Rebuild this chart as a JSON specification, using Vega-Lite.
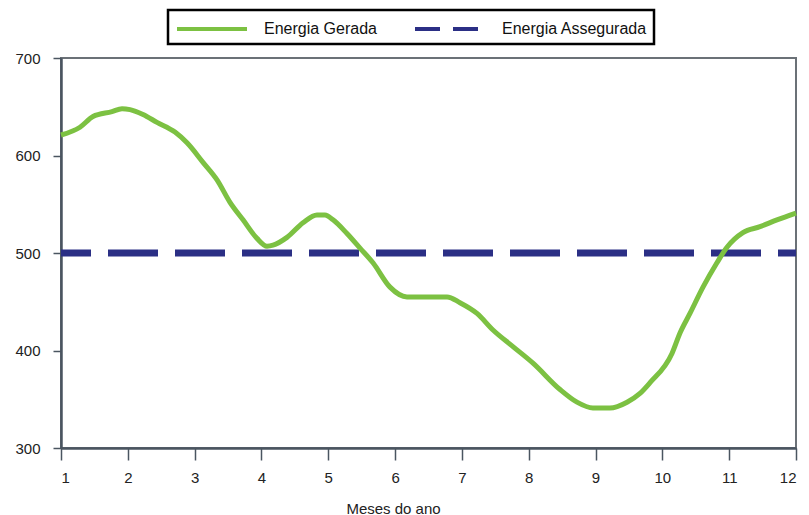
{
  "$schema": "https://vega.github.io/schema/vega-lite/v6.json",
  "width": 735,
  "height": 390,
  "autosize": {"type": "none"},
  "padding": {"left": 61, "top": 58, "right": 13, "bottom": 67},
  "background": "white",
  "config": {
    "font": "Liberation Sans",
    "view": {"stroke": "#6b7177", "strokeWidth": 2},
    "axis": {
      "grid": false,
      "labelFont": "Liberation Sans",
      "labelColor": "#222222",
      "labelFontSize": 15,
      "domainColor": "#4a5560",
      "domainWidth": 2.5,
      "tickColor": "#4a5560",
      "tickWidth": 1.5,
      "titleFont": "Liberation Sans",
      "titleFontWeight": "normal",
      "titleColor": "#222222",
      "titleFontSize": 15
    }
  },
  "data": {
    "values": [
      {"series": "Energia Assegurada", "month": 1, "value": 500},
      {"series": "Energia Assegurada", "month": 12, "value": 500},
      {"series": "Energia Gerada", "month": 1.0, "value": 621},
      {"series": "Energia Gerada", "month": 1.284, "value": 629},
      {"series": "Energia Gerada", "month": 1.479, "value": 640},
      {"series": "Energia Gerada", "month": 1.763, "value": 645},
      {"series": "Energia Gerada", "month": 1.913, "value": 648},
      {"series": "Energia Gerada", "month": 2.033, "value": 647},
      {"series": "Energia Gerada", "month": 2.227, "value": 642},
      {"series": "Energia Gerada", "month": 2.437, "value": 634},
      {"series": "Energia Gerada", "month": 2.706, "value": 624},
      {"series": "Energia Gerada", "month": 2.886, "value": 613},
      {"series": "Energia Gerada", "month": 3.125, "value": 593},
      {"series": "Energia Gerada", "month": 3.335, "value": 575},
      {"series": "Energia Gerada", "month": 3.529, "value": 552},
      {"series": "Energia Gerada", "month": 3.724, "value": 534},
      {"series": "Energia Gerada", "month": 3.933, "value": 515},
      {"series": "Energia Gerada", "month": 4.083, "value": 507},
      {"series": "Energia Gerada", "month": 4.173, "value": 508},
      {"series": "Energia Gerada", "month": 4.382, "value": 516},
      {"series": "Energia Gerada", "month": 4.622, "value": 531},
      {"series": "Energia Gerada", "month": 4.831, "value": 539},
      {"series": "Energia Gerada", "month": 4.951, "value": 539},
      {"series": "Energia Gerada", "month": 5.071, "value": 534},
      {"series": "Energia Gerada", "month": 5.28, "value": 520},
      {"series": "Energia Gerada", "month": 5.475, "value": 505},
      {"series": "Energia Gerada", "month": 5.669, "value": 490},
      {"series": "Energia Gerada", "month": 5.924, "value": 465},
      {"series": "Energia Gerada", "month": 6.178, "value": 455},
      {"series": "Energia Gerada", "month": 6.777, "value": 455},
      {"series": "Energia Gerada", "month": 6.971, "value": 449},
      {"series": "Energia Gerada", "month": 7.226, "value": 438},
      {"series": "Energia Gerada", "month": 7.465, "value": 421},
      {"series": "Energia Gerada", "month": 7.764, "value": 404},
      {"series": "Energia Gerada", "month": 8.064, "value": 387},
      {"series": "Energia Gerada", "month": 8.468, "value": 360},
      {"series": "Energia Gerada", "month": 8.722, "value": 347},
      {"series": "Energia Gerada", "month": 8.962, "value": 341},
      {"series": "Energia Gerada", "month": 9.216, "value": 341},
      {"series": "Energia Gerada", "month": 9.471, "value": 347},
      {"series": "Energia Gerada", "month": 9.665, "value": 356},
      {"series": "Energia Gerada", "month": 9.815, "value": 367},
      {"series": "Energia Gerada", "month": 10.144, "value": 397},
      {"series": "Energia Gerada", "month": 10.264, "value": 418},
      {"series": "Energia Gerada", "month": 10.413, "value": 438},
      {"series": "Energia Gerada", "month": 10.608, "value": 465},
      {"series": "Energia Gerada", "month": 10.817, "value": 490},
      {"series": "Energia Gerada", "month": 10.967, "value": 506},
      {"series": "Energia Gerada", "month": 11.206, "value": 521},
      {"series": "Energia Gerada", "month": 11.461, "value": 527},
      {"series": "Energia Gerada", "month": 11.715, "value": 534},
      {"series": "Energia Gerada", "month": 12.0, "value": 541}
    ]
  },
  "encoding": {
    "x": {
      "field": "month", "type": "quantitative",
      "scale": {"domain": [1, 12], "nice": false, "zero": false},
      "axis": {
        "values": [1, 2, 3, 4, 5, 6, 7, 8, 9, 10, 11, 12],
        "title": "Meses do ano",
        "tickSize": 12,
        "labelPadding": 10,
        "labelBaseline": "top",
        "titleX": 332,
        "titleY": 60,
        "titleBaseline": "middle",
        "titleAlign": "center",
        "encode": {"ticks": {"update": {"y": {"value": -12}, "y2": {"value": 12}}}}
      }
    },
    "y": {
      "field": "value", "type": "quantitative",
      "scale": {"domain": [300, 700], "nice": false, "zero": false},
      "axis": {
        "values": [300, 400, 500, 600, 700],
        "title": null,
        "tickSize": 8,
        "labelPadding": 13,
        "encode": {"ticks": {"update": {"x": {"value": 9}, "x2": {"value": -8}}}}
      }
    },
    "color": {
      "field": "series", "type": "nominal",
      "scale": {"domain": ["Energia Gerada", "Energia Assegurada"], "range": ["#7cc142", "#2b2f85"]},
      "legend": {
        "title": null,
        "orient": "none",
        "legendX": 107,
        "legendY": -48,
        "direction": "horizontal",
        "symbolType": "M-1,0H6",
        "symbolSize": 400,
        "symbolStrokeWidth": 4,
        "labelFont": "Liberation Sans",
        "labelFontSize": 16,
        "labelColor": "#111111",
        "labelOffset": 65,
        "columnPadding": 30,
        "padding": 7,
        "strokeColor": "#000000",
        "encode": {
          "legend": {"update": {"strokeWidth": {"value": 2.5}}},
          "symbols": {"update": {"strokeDash": {"signal": "datum.value === 'Energia Assegurada' ? [25, 13] : [1, 0]"}}}
        }
      }
    }
  },
  "layer": [
    {
      "transform": [{"filter": "datum.series === 'Energia Assegurada'"}],
      "mark": {"type": "line", "strokeWidth": 7, "strokeDash": [50, 17], "strokeDashOffset": 20, "strokeCap": "butt"}
    },
    {
      "transform": [{"filter": "datum.series === 'Energia Gerada'"}],
      "mark": {"type": "line", "strokeWidth": 5, "interpolate": "monotone"}
    }
  ]
}
